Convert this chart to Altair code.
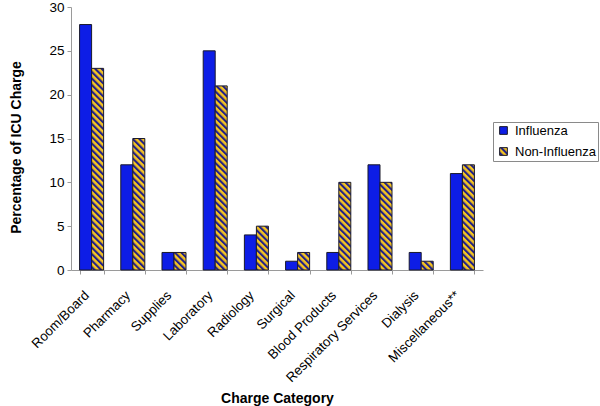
import altair as alt
import pandas as pd

# ---- data ----
categories = [
    "Room/Board", "Pharmacy", "Supplies", "Laboratory", "Radiology",
    "Surgical", "Blood Products", "Respiratory Services", "Dialysis",
    "Miscellaneous**",
]
influenza = [28, 12, 2, 25, 4, 1, 2, 12, 2, 11]
non_influenza = [23, 15, 2, 21, 5, 2, 10, 10, 1, 12]
series = ["Influenza", "Non-Influenza"]
y_ticks = [0, 5, 10, 15, 20, 25, 30]

rows = []
for c, a, b in zip(categories, influenza, non_influenza):
    rows.append({"Category": c, "Group": series[0], "Value": a})
    rows.append({"Category": c, "Group": series[1], "Value": b})
df = pd.DataFrame(rows)

BLUE = "#0d1de6"
YELLOW = "#f7c620"
NAVY = "#20208a"
# diagonal hatch pattern (defined in the page); plain yellow is the SVG fallback
HATCH = "url(#hatch) " + YELLOW

# ---- add the hatch pattern definition to the saved page ----
HATCH_DEFS = (
    '<svg width="0" height="0" style="position:absolute;left:0;top:0" aria-hidden="true">'
    '<defs><pattern id="hatch" patternUnits="userSpaceOnUse" width="4.6" height="4.6" '
    'patternTransform="rotate(-45)">'
    f'<rect x="0" y="0" width="4.6" height="4.6" fill="{YELLOW}"/>'
    f'<rect x="0" y="0" width="2.1" height="4.6" fill="{NAVY}"/>'
    '</pattern></defs></svg>'
)
PAGE_CSS = "<style>html,body{margin:0;padding:0;overflow:hidden}</style>"

try:
    import altair.utils.html as _ah

    class _HatchTemplate:
        def __init__(self, base):
            self.base = base

        def render(self, *args, **kwargs):
            html = self.base.render(*args, **kwargs)
            if "</head>" in html:
                html = html.replace("</head>", PAGE_CSS + "</head>", 1)
            if "<body>" in html:
                html = html.replace("<body>", "<body>" + HATCH_DEFS, 1)
            else:
                html = html.replace('<div id="', HATCH_DEFS + '<div id="', 1)
            return html

    _base = _ah.TEMPLATES["standard"]
    if not isinstance(_base, _HatchTemplate):
        _ah.TEMPLATES["standard"] = _HatchTemplate(_base)
except Exception:
    pass

FONT = "Liberation Sans"
AXIS_GRAY = "#9a9a9a"

chart = (
    alt.Chart(df)
    .mark_bar(stroke="#1a1a2a", strokeWidth=1)
    .encode(
        x=alt.X(
            "Category:N",
            sort=categories,
            scale=alt.Scale(paddingInner=0.417, paddingOuter=0.2085),
            axis=alt.Axis(
                title="Charge Category",
                labelAngle=-45,
                labelAlign="right",
                labelBaseline="top",
                labelPadding=14,
                labelOffset=-10,
                labelFontSize=13.3,
                labelColor="#000000",
                tickBand="extent",
                tickSize=4,
                tickColor=AXIS_GRAY,
                domainColor=AXIS_GRAY,
                titleFontSize=14,
                titleFontWeight="bold",
                titleColor="#000000",
                titleBaseline="alphabetic",
                titleY=132,
            ),
        ),
        xOffset=alt.XOffset(
            "Group:N", sort=series, scale=alt.Scale(paddingInner=0, paddingOuter=0)
        ),
        y=alt.Y(
            "Value:Q",
            scale=alt.Scale(domain=[0, 30], nice=False),
            axis=alt.Axis(
                title="Percentage of ICU Charge",
                values=y_ticks,
                grid=False,
                labelFontSize=13.5,
                labelColor="#000000",
                labelPadding=3,
                tickSize=4,
                tickColor=AXIS_GRAY,
                domainColor=AXIS_GRAY,
                titleFontSize=14,
                titleFontWeight="bold",
                titleColor="#000000",
                titleAngle=270,
                titleAlign="center",
                titleBaseline="alphabetic",
                titleX=-50.5,
                titleY=140,
            ),
        ),
        color=alt.Color(
            "Group:N",
            sort=series,
            scale=alt.Scale(domain=series, range=[BLUE, HATCH]),
            legend=alt.Legend(
                title=None,
                orient="none",
                legendX=422,
                legendY=115,
                padding=2,
                symbolOffset=2,
                rowPadding=7,
                labelFontSize=13,
                labelColor="#000000",
                labelOffset=5,
                labelLimit=200,
                symbolType="square",
                symbolSize=60,
                symbolStrokeColor="#1a1a2a",
                symbolStrokeWidth=1,
                strokeColor="#8a8a8a",
                fillColor="#ffffff",
            ),
        ),
    )
    .properties(
        width=412,
        height=263,
        autosize=alt.AutoSizeParams(type="none"),
        padding={"left": 71, "top": 7, "right": 117, "bottom": 136},
    )
    .configure(font=FONT)
    .configure_view(stroke="transparent")
)

chart.save("out.html", embed_options={"renderer": "svg", "actions": False})
